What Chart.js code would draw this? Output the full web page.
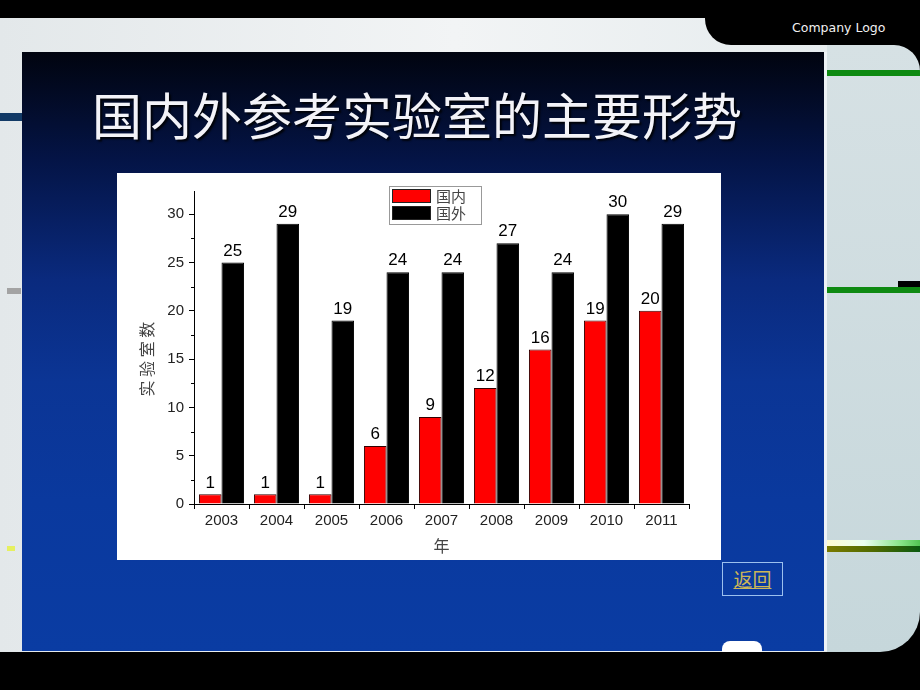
<!DOCTYPE html>
<html><head><meta charset="utf-8">
<script src="https://cdn.jsdelivr.net/npm/chart.js@4/dist/chart.umd.min.js"></script>
<style>
html,body{margin:0;padding:0;}
body{width:920px;height:690px;background:#000;position:relative;overflow:hidden;font-family:"Liberation Sans",Arial,sans-serif;}
.abs{position:absolute;}
#slide{left:0;top:18px;width:827px;height:634px;background:linear-gradient(to right,#e3e8ea,#f2f4f5 55%,#e6ecee);}
#logo{left:705px;top:0;width:215px;height:45px;background:#000;border-bottom-left-radius:26px;}
#logotext{left:792px;top:20px;color:#f2f2f2;font-family:"DejaVu Sans",sans-serif;font-size:12.5px;white-space:nowrap;}
#right{left:827px;top:45px;width:93px;height:607px;background:linear-gradient(to bottom,#d6e1e4,#c6d7db);border-top-right-radius:26px;border-bottom-right-radius:40px;overflow:hidden;}
#panel{left:22px;top:52px;width:803px;height:599px;background:linear-gradient(to bottom,#01040f 0%,#041446 18%,#0a2a7e 38%,#0b3595 55%,#0a399e 75%,#0a3ca3 100%);}
#panelEdge{left:824px;top:52px;width:3px;height:599px;background:#eef3f6;}
#title{left:92px;top:83px;color:#f3f3f8;font-family:"Noto Sans CJK SC",sans-serif;font-weight:400;font-size:50px;letter-spacing:0;line-height:60px;white-space:nowrap;text-shadow:2px 2px 2px rgba(0,0,0,0.85);}
#chartBox{left:117px;top:173px;width:604px;height:387px;background:#fff;}
#back{left:722px;top:562px;width:59px;height:32px;border:1px solid #9cc0ee;color:#cdb658;font-family:"Noto Sans CJK SC",sans-serif;font-size:19px;line-height:32px;text-align:center;text-decoration:underline;}
#navbtn{left:722px;top:641px;width:40px;height:22px;background:#fff;border-radius:8px;}
#bottom{left:0;top:652px;width:920px;height:38px;background:#000;}
</style></head>
<body>
<div id="slide" class="abs"></div>
<div class="abs" style="left:0;top:113px;width:22px;height:8px;background:#123a66;"></div>
<div class="abs" style="left:7px;top:288px;width:14px;height:6px;background:#a3a3a3;"></div>
<div class="abs" style="left:7px;top:546px;width:8px;height:5px;background:#e6f060;"></div>
<div id="logo" class="abs"></div>
<div id="logotext" class="abs">Company Logo</div>
<div id="right" class="abs">
  <div class="abs" style="left:0;top:25px;width:93px;height:6px;background:#0e8a12;"></div>
  <div class="abs" style="left:71px;top:236px;width:22px;height:6px;background:#000;"></div>
  <div class="abs" style="left:0;top:242px;width:93px;height:6px;background:#0e8a12;"></div>
  <div class="abs" style="left:0;top:495px;width:93px;height:6px;background:linear-gradient(to right,#fffbd0,#eafff0 40%,#86e486 80%,#52c452);"></div>
  <div class="abs" style="left:0;top:501px;width:93px;height:6px;background:linear-gradient(to right,#7a7a00,#4f6a00 50%,#0a5a10);"></div>
</div>
<div id="panel" class="abs"></div>
<div id="panelEdge" class="abs"></div>
<div id="title" class="abs">国内外参考实验室的主要形势</div>
<div id="chartBox" class="abs"><canvas id="c" width="604" height="387"></canvas></div>
<div id="back" class="abs">返回</div>
<div id="navbtn" class="abs"></div>
<div id="bottom" class="abs"></div>
<script>
const years = ['2003','2004','2005','2006','2007','2008','2009','2010','2011'];
const domestic = [1, 1, 1, 6, 9, 12, 16, 19, 20];
const foreign = [25, 29, 19, 24, 24, 27, 24, 30, 29];
const seriesNames = ['国内', '国外'];
const seriesColors = ['#ff0000', '#000000'];
const yAxisTitle = '实 验 室 数\u3000  ';
const xAxisTitle = '年';

const LAT = '"Liberation Sans", Arial, sans-serif';
const CJK = '"Noto Sans CJK SC", sans-serif';

const valueLabels = {
  id: 'valueLabels',
  afterDatasetsDraw(chart) {
    const ctx = chart.ctx;
    ctx.save();
    ctx.font = '17px ' + LAT;
    ctx.fillStyle = '#000';
    ctx.textAlign = 'center';
    ctx.textBaseline = 'bottom';
    chart.data.datasets.forEach((ds, i) => {
      chart.getDatasetMeta(i).data.forEach((bar, j) => {
        ctx.fillText(String(ds.data[j]), bar.x, bar.y - 3);
      });
    });
    ctx.restore();
  }
};

const minorTicks = {
  id: 'minorTicks',
  afterDraw(chart) {
    const s = chart.scales.y;
    const ctx = chart.ctx;
    ctx.save();
    ctx.strokeStyle = '#000';
    ctx.lineWidth = 1;
    for (let v = 2.5; v < s.max; v += 5) {
      const y = Math.round(s.getPixelForValue(v)) + 0.5;
      ctx.beginPath();
      ctx.moveTo(s.right - 3, y);
      ctx.lineTo(s.right, y);
      ctx.stroke();
    }
    ctx.restore();
  }
};

const boxLegend = {
  id: 'boxLegend',
  afterDraw(chart) {
    const ctx = chart.ctx;
    const a = chart.chartArea;
    const x0 = a.left + 195, y0 = 13, w = 92, h = 38;
    ctx.save();
    ctx.fillStyle = '#fff';
    ctx.fillRect(x0, y0, w, h);
    ctx.strokeStyle = '#999';
    ctx.lineWidth = 1;
    ctx.strokeRect(x0 + 0.5, y0 + 0.5, w, h);
    chart.data.datasets.forEach((ds, i) => {
      const sy = y0 + 3 + i * 17;
      ctx.fillStyle = ds.backgroundColor;
      ctx.fillRect(x0 + 3, sy, 39, 14);
      ctx.strokeStyle = '#222';
      ctx.strokeRect(x0 + 3.5, sy + 0.5, 38, 13);
      ctx.fillStyle = '#444';
      ctx.font = '15px ' + CJK;
      ctx.textBaseline = 'middle';
      ctx.textAlign = 'left';
      ctx.fillText(ds.label, x0 + 47, sy + 7);
    });
    ctx.restore();
  }
};

new Chart(document.getElementById('c'), {
  type: 'bar',
  data: {
    labels: years,
    datasets: [
      { label: seriesNames[0], data: domestic, backgroundColor: seriesColors[0], borderColor: '#300', borderWidth: 1 },
      { label: seriesNames[1], data: foreign, backgroundColor: seriesColors[1], borderColor: '#000', borderWidth: 1 }
    ]
  },
  options: {
    responsive: false,
    animation: false,
    layout: { padding: { top: 18, right: 32, left: 0, bottom: 0 } },
    datasets: { bar: { categoryPercentage: 0.82, barPercentage: 1.0 } },
    plugins: { legend: { display: false }, tooltip: { enabled: false } },
    scales: {
      x: {
        afterFit(s) { s.height = 56; },
        border: { color: '#000', width: 1 },
        grid: { drawOnChartArea: false, drawTicks: true, tickLength: 5, color: '#000', offset: true },
        ticks: { padding: 3, color: '#222', font: { size: 15, family: LAT }, maxRotation: 0 },
        title: { display: true, text: xAxisTitle, color: '#444', font: { size: 16, family: CJK }, padding: { top: 0, bottom: 4 } }
      },
      y: {
        min: 0, max: 32.4,
        afterFit(s) { s.width = 77; },
        border: { color: '#000', width: 1 },
        grid: { drawOnChartArea: false, drawTicks: true, tickLength: 5, color: '#000' },
        ticks: { stepSize: 5, includeBounds: false, padding: 5, color: '#222', font: { size: 15, family: LAT } },
        title: { display: true, text: yAxisTitle, color: '#444', font: { size: 16, family: CJK }, padding: { top: 20 } }
      }
    }
  },
  plugins: [valueLabels, minorTicks, boxLegend]
});
</script>
</body></html>
